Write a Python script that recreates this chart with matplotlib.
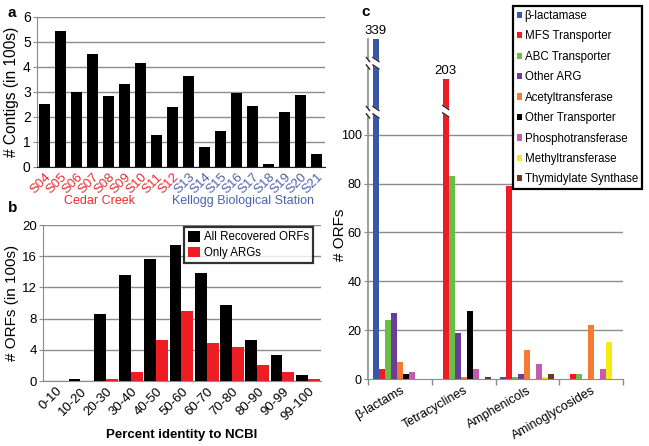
import numpy as np
import matplotlib
matplotlib.use('Agg')
import matplotlib.pyplot as plt
import matplotlib.transforms as mtransforms

plt.rcParams['font.family'] = ['Liberation Sans', 'DejaVu Sans']

####################  data

# panel a
samples = ['S04', 'S05', 'S06', 'S07', 'S08', 'S09', 'S10', 'S11', 'S12',
           'S13', 'S14', 'S15', 'S16', 'S17', 'S18', 'S19', 'S20', 'S21']
contigs = [2.5, 5.45, 3.0, 4.52, 2.83, 3.32, 4.17, 1.27, 2.38,
           3.62, 0.8, 1.43, 2.97, 2.43, 0.1, 2.2, 2.88, 0.5]
n_cedar = 9

# panel b
id_bins = ['0-10', '10-20', '20-30', '30-40', '40-50', '50-60',
           '60-70', '70-80', '80-90', '90-99', '99-100']
all_orfs = [0.05, 0.3, 8.6, 13.6, 15.7, 17.5, 13.8, 9.7, 5.3, 3.3, 0.8]
only_args = [0.02, 0.05, 0.3, 1.2, 5.2, 9.0, 4.9, 4.4, 2.1, 1.1, 0.3]

# panel c
drug_classes = ['\u03b2-lactams', 'Tetracyclines', 'Amphenicols', 'Aminoglycosides']
mech_names = ['\u03b2-lactamase', 'MFS Transporter', 'ABC Transporter', 'Other ARG',
              'Acetyltransferase', 'Other Transporter', 'Phosphotransferase',
              'Methyltransferase', 'Thymidylate Synthase']
mech_colors = ['#3a56a8', '#ed1c24', '#6abd45', '#6a3d9a', '#f47b30',
               '#000000', '#c35bb0', '#f5ea14', '#6b3a1e']
beta_lactamase = [339, 0, 1, 0]
mfs = [4, 203, 79, 2]
abc = [24, 83, 1, 2]
other_arg = [27, 19, 2, 0]
acetyl = [7, 1, 12, 22]
other_trans = [2, 28, 0, 0]
phospho = [3, 4, 6, 4]
methyl = [0, 0, 1, 15]
thymid = [0, 1, 2, 0]
mech_values = [beta_lactamase, mfs, abc, other_arg, acetyl,
               other_trans, phospho, methyl, thymid]

red = '#ec2a2f'
blue = '#4a63ae'
gridc = '#8c8c8c'

fig = plt.figure(figsize=(6.49, 4.46), dpi=100)

####################  a

axa = fig.add_axes([0.057, 0.6256, 0.444, 0.3363])
xa = np.arange(len(samples))
axa.bar(xa, contigs, width=0.66, color='black', zorder=3)
axa.set_xlim(-0.47, len(samples) - 0.47)
axa.set_ylim(0, 6)
axa.set_yticks(range(0, 7))
axa.grid(True, axis='y', color=gridc, lw=1, zorder=0)
axa.set_xticks(xa)
axa.set_xticklabels(samples, rotation=45, ha='right', rotation_mode='anchor')
for i, t in enumerate(axa.get_xticklabels()):
    t.set_color(red if i < n_cedar else blue)
axa.tick_params(axis='x', length=0, labelsize=9.5, pad=3)
axa.tick_params(axis='y', length=3, color=gridc, labelsize=10, pad=1.5)
for s in ['top', 'right']:
    axa.spines[s].set_visible(False)
axa.spines['left'].set_color(gridc)
axa.spines['bottom'].set_color('#222222')
axa.set_ylabel('# Contigs (in 100s)', fontsize=11.2)
axa.yaxis.set_label_coords(-0.064, 0.5)
fig.text(100 / 649, 1 - 201 / 446, 'Cedar Creek', color=red, fontsize=9, ha='center', va='center')
fig.text(243 / 649, 1 - 201 / 446, 'Kellogg Biological Station', color=blue, fontsize=9,
         ha='center', va='center')

####################  b

axb = fig.add_axes([0.0663, 0.1457, 0.428, 0.3498])
xb = np.arange(len(id_bins))
axb.bar(xb + 0.245, all_orfs, width=0.47, color='black', label='All Recovered ORFs', zorder=3)
axb.bar(xb + 0.715, only_args, width=0.47, color='#ee1d23', label='Only ARGs', zorder=3)
axb.set_xlim(0, len(id_bins))
axb.set_ylim(0, 20)
axb.set_yticks([0, 4, 8, 12, 16, 20])
axb.grid(True, axis='y', color=gridc, lw=1, zorder=0)
axb.set_xticks(xb + 0.5)
axb.set_xticklabels(id_bins, rotation=45, ha='right', rotation_mode='anchor')
axb.tick_params(axis='x', length=0, labelsize=9.5, pad=3)
axb.tick_params(axis='y', length=3, color=gridc, labelsize=9.5, pad=1.5)
for s in ['top', 'right']:
    axb.spines[s].set_visible(False)
axb.spines['left'].set_color(gridc)
axb.spines['bottom'].set_color(gridc)
axb.set_ylabel('# ORFs (in 100s)', fontsize=11)
axb.yaxis.set_label_coords(-0.086, 0.5)
axb.set_xlabel('Percent identity to NCBI', fontsize=9.5, fontweight='bold', labelpad=4)
legb = axb.legend(loc='upper right', bbox_to_anchor=(313 / 649, 1 - 227 / 446),
                  bbox_transform=fig.transFigure, fontsize=8.3, frameon=True, fancybox=False,
                  handlelength=1.05, handleheight=1.05, handletextpad=0.3,
                  labelspacing=0.3, borderpad=0.35, borderaxespad=0)
legb.get_frame().set_edgecolor('black')
legb.get_frame().set_linewidth(1.6)


####################  c

def fwd(v):
    v = np.asarray(v, dtype=float)
    return np.where(v <= 100, v, 100 + 32 * np.log(np.maximum(v, 100) / 100))


def inv(y):
    y = np.asarray(y, dtype=float)
    return np.where(y <= 100, y, 100 * np.exp((np.maximum(y, 100) - 100) / 32))


axc = fig.add_axes([0.567, 0.150, 0.393, 0.7623])
axc.set_yscale('function', functions=(fwd, inv))
bw = 0.094
off = 0.078
xc = np.arange(len(drug_classes))
for j, (name, col, vals) in enumerate(zip(mech_names, mech_colors, mech_values)):
    axc.bar(xc + off + bw * (j + 0.5), vals, width=bw, color=col, label=name, zorder=3)
axc.set_xlim(0, len(drug_classes))
axc.set_ylim(0, 339)
axc.set_yticks([0, 20, 40, 60, 80, 100])
axc.set_yticklabels(['0', '20', '40', '60', '80', '100'])
axc.yaxis.set_minor_locator(matplotlib.ticker.NullLocator())
for v in [20, 40, 60, 80, 100]:
    axc.axhline(v, color=gridc, lw=1, zorder=0)
axc.set_xticks(xc + 0.5)
axc.set_xticklabels(drug_classes, rotation=30, ha='right', rotation_mode='anchor')
axc.set_xticks(np.arange(len(drug_classes) + 1), minor=True)
axc.tick_params(axis='x', which='major', length=0, labelsize=9, pad=4)
axc.tick_params(axis='x', which='minor', length=4, color=gridc, width=1)
axc.tick_params(axis='y', length=3, color=gridc, labelsize=9, pad=1.5)
for s in ['top', 'right']:
    axc.spines[s].set_visible(False)
axc.spines['left'].set_color(gridc)
axc.spines['bottom'].set_color(gridc)
axc.spines['left'].set_linewidth(1.2)
axc.set_ylabel('# ORFs', fontsize=11)
axc.yaxis.set_label_coords(-0.083, 0.424)

# numbers over the broken bars
axc.annotate(str(beta_lactamase[0]), (xc[0] + off + bw * 0.5, beta_lactamase[0]),
             xytext=(0, 1.5), textcoords='offset points', ha='center', va='bottom', fontsize=9.5)
axc.annotate(str(mfs[1]), (xc[1] + off + bw * 1.5, mfs[1]),
             xytext=(0, 1.5), textcoords='offset points', ha='center', va='bottom', fontsize=9.5)

# axis-break marks (x in data, y in axes fraction)
trans = mtransforms.blended_transform_factory(axc.transData, axc.transAxes)


def cut(x0, x1, yc, h=0.022, s=0.012):
    xs = [x0, x1, x1, x0]
    ys = [yc + h / 2 + s / 2, yc + h / 2 - s / 2, yc - h / 2 - s / 2, yc - h / 2 + s / 2]
    axc.fill(xs, ys, color='white', transform=trans, zorder=5, clip_on=False)
    axc.plot([x0, x1], [ys[0], ys[1]], color='#222222', lw=1, transform=trans, zorder=6, clip_on=False)
    axc.plot([x0, x1], [ys[3], ys[2]], color='#222222', lw=1, transform=trans, zorder=6, clip_on=False)


for yb in [0.929, 0.785]:
    cut(-0.025, 0.025, yb)
    cut(off, off + bw, yb)
cut(1 + off + bw, 1 + off + 2 * bw, 0.788)

legc = axc.legend(loc='upper right', bbox_to_anchor=(642 / 649, 1 - 6 / 446),
                  bbox_transform=fig.transFigure, fontsize=8.3, frameon=True, fancybox=False,
                  handlelength=0.45, handleheight=0.45, handletextpad=0.25,
                  labelspacing=0.73, borderpad=0.35, borderaxespad=0, framealpha=1)
legc.get_frame().set_edgecolor('black')
legc.get_frame().set_linewidth(1.6)
legc.set_zorder(10)

####################  panel letters

fig.text(8 / 649, 1 - 13 / 446, 'a', fontsize=11, fontweight='bold', ha='left', va='center')
fig.text(8 / 649, 1 - 208 / 446, 'b', fontsize=11, fontweight='bold', ha='left', va='center')
fig.text(361 / 649, 1 - 12 / 446, 'c', fontsize=11, fontweight='bold', ha='left', va='center')

fig.savefig('out.png', dpi=100)
